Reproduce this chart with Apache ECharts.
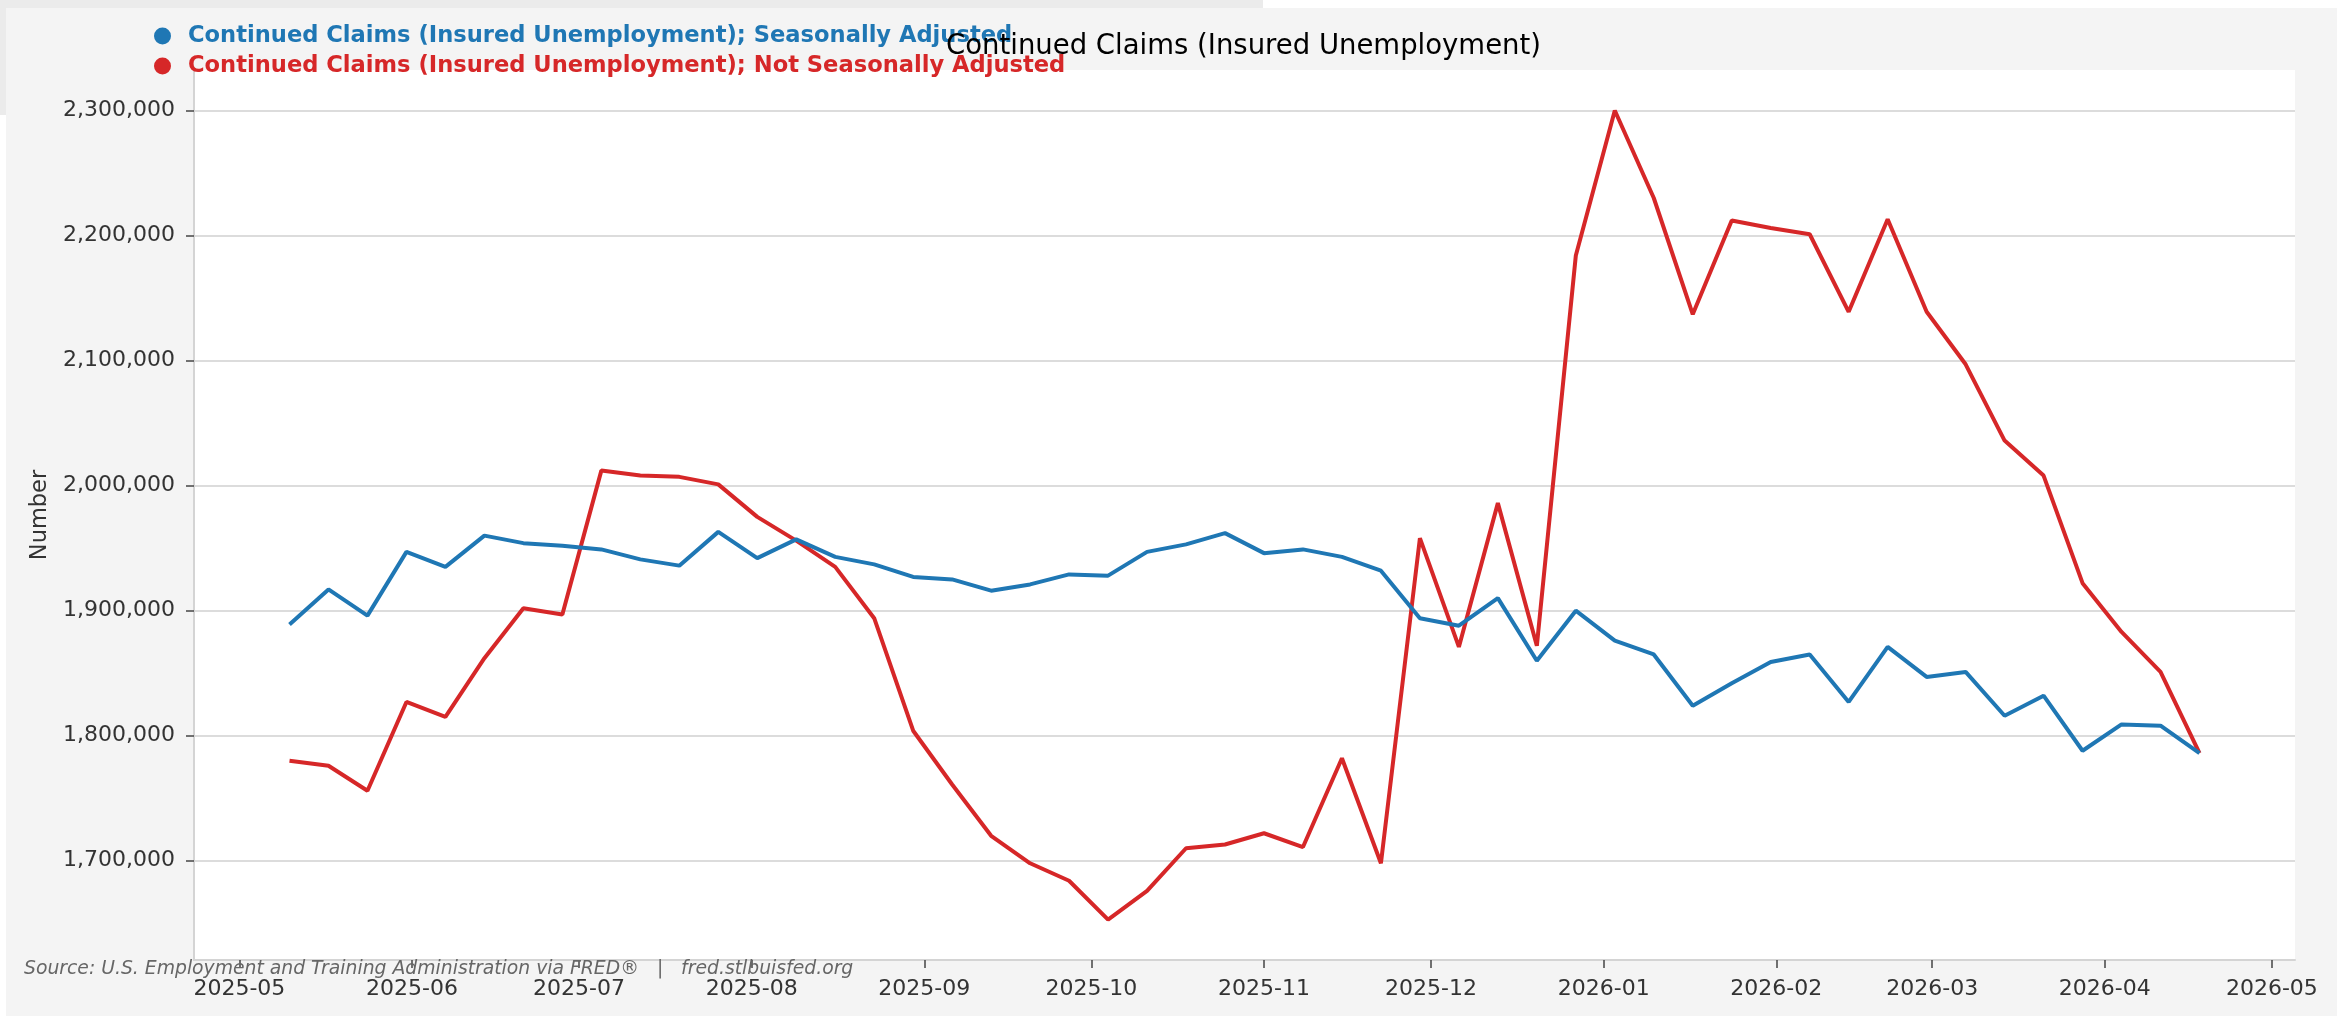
<!DOCTYPE html>
<html>
<head>
<meta charset="utf-8">
<script src="https://cdn.jsdelivr.net/npm/echarts@6/dist/echarts.min.js"></script>
<style>
html,body{margin:0;padding:0;background:#ffffff;}
#chart{width:2343px;height:1016px;}
</style>
</head>
<body>
<div id="chart"></div>
<script>
// Week-ending dates (Saturdays)
const weekDates = [
  '2025-05-10','2025-05-17','2025-05-24','2025-05-31','2025-06-07','2025-06-14','2025-06-21','2025-06-28',
  '2025-07-05','2025-07-12','2025-07-19','2025-07-26','2025-08-02','2025-08-09','2025-08-16','2025-08-23',
  '2025-08-30','2025-09-06','2025-09-13','2025-09-20','2025-09-27','2025-10-04','2025-10-11','2025-10-18',
  '2025-10-25','2025-11-01','2025-11-08','2025-11-15','2025-11-22','2025-11-29','2025-12-06','2025-12-13',
  '2025-12-20','2025-12-27','2026-01-03','2026-01-10','2026-01-17','2026-01-24','2026-01-31','2026-02-07',
  '2026-02-14','2026-02-21','2026-02-28','2026-03-07','2026-03-14','2026-03-21','2026-03-28','2026-04-04',
  '2026-04-11','2026-04-18'
];
// Continued Claims; Seasonally Adjusted
const seasonallyAdjusted = [
  1889000,1917000,1896000,1947000,1935000,1960000,1954000,1952000,
  1949000,1941000,1936000,1963000,1942000,1957000,1943000,1937000,
  1927000,1925000,1916000,1921000,1929000,1928000,1947000,1953000,
  1962000,1946000,1949000,1943000,1932000,1894000,1888000,1910000,
  1860000,1900000,1876000,1865000,1824000,1842000,1859000,1865000,
  1827000,1871000,1847000,1851000,1816000,1832000,1788000,1809000,
  1808000,1786000
];
// Continued Claims; Not Seasonally Adjusted
const notSeasonallyAdjusted = [
  1780000,1776000,1756000,1827000,1815000,1862000,1902000,1897000,
  2012000,2008000,2007000,2001000,1975000,1956000,1935000,1894000,
  1804000,1761000,1720000,1698000,1684000,1653000,1676000,1710000,
  1713000,1722000,1711000,1782000,1698000,1958000,1871000,1986000,
  1872000,2184000,2300000,2230000,2137000,2212000,2206000,2201000,
  2139000,2213000,2139000,2097000,2036000,2008000,1922000,1883000,
  1851000,1786000
];
const monthTicks = ['2025-05','2025-06','2025-07','2025-08','2025-09','2025-10','2025-11','2025-12',
  '2026-01','2026-02','2026-03','2026-04','2026-05'];
const yTicks = [1700000,1800000,1900000,2000000,2100000,2200000,2300000];

const seriesNames = [
  'Continued Claims (Insured Unemployment); Seasonally Adjusted',
  'Continued Claims (Insured Unemployment); Not Seasonally Adjusted'
];
const colors = ['#1f77b4','#d62728'];

function ts(s){ const p=s.split('-').map(Number); return Date.UTC(p[0],p[1]-1,p[2]||1); }
const xs = weekDates.map(ts);
const monthTs = monthTicks.map(ts);
const saData = xs.map((t,i)=>[t,seasonallyAdjusted[i]]);
const nsaData = xs.map((t,i)=>[t,notSeasonallyAdjusted[i]]);

const xSpan = xs[xs.length-1]-xs[0];
const xMin = xs[0]-0.05*xSpan, xMax = xs[xs.length-1]+0.05*xSpan;
const allY = seasonallyAdjusted.concat(notSeasonallyAdjusted);
const yLo = Math.min(...allY), yHi = Math.max(...allY), ySpan = yHi-yLo;
const yMin = yLo-0.05*ySpan, yMax = yHi+0.05*ySpan;

const FONT = 'DejaVu Sans';
const chart = echarts.init(document.getElementById('chart'), null, {renderer:'canvas'});
chart.setOption({
  animation:false,
  backgroundColor:'#ffffff',
  textStyle:{fontFamily:FONT},
  graphic:[
    {type:'rect', z:-20, silent:true, shape:{x:0,y:0,width:1263,height:115}, style:{fill:'#ebebeb'}},
    {type:'rect', z:-19, silent:true, shape:{x:6,y:8,width:2331,height:1008}, style:{fill:'#f4f4f4'}},
    {type:'text', left:24, top:960, z:10, silent:true,
      style:{text:'Source: U.S. Employment and Training Administration via FRED®   |   fred.stlbuisfed.org',
        font:'italic 18.8px "DejaVu Sans"', fill:'#666666'}}
  ],
  title:{
    text:'Continued Claims (Insured Unemployment)',
    left:946, top:33, padding:0,
    textStyle:{fontFamily:FONT, fontSize:27.5, fontWeight:'normal', color:'#000000'}
  },
  legend:{
    orient:'vertical', left:154, top:23, padding:0, itemGap:4,
    icon:'circle', itemWidth:17, itemHeight:17,
    selectedMode:false,
    textStyle:{fontFamily:FONT, fontSize:22.6, fontWeight:'bold', lineHeight:26, padding:[0,0,0,12]},
    data:[
      {name:seriesNames[0], textStyle:{color:colors[0]}},
      {name:seriesNames[1], textStyle:{color:colors[1]}}
    ]
  },
  grid:{left:194, top:70, width:2101, height:890, show:true, backgroundColor:'#ffffff', borderWidth:0, containLabel:false},
  xAxis:{
    type:'value', min:xMin, max:xMax, scale:true,
    axisLine:{show:true, lineStyle:{color:'#d4d4d4', width:2}},
    axisTick:{show:true, length:8, customValues:monthTs, lineStyle:{color:'#444444', width:1.5}},
    axisLabel:{show:true, customValues:monthTs, margin:18, fontFamily:FONT, fontSize:22, color:'#333333',
      hideOverlap:false, showMinLabel:true, showMaxLabel:true,
      formatter:function(v){ let best=0; for(let i=1;i<monthTs.length;i++){ if(Math.abs(monthTs[i]-v)<Math.abs(monthTs[best]-v)) best=i; } return monthTicks[best]; }},
    splitLine:{show:false}
  },
  yAxis:{
    type:'value', min:yMin, max:yMax, scale:true,
    name:'Number', nameLocation:'middle', nameGap:140, nameRotate:90,
    nameTextStyle:{fontFamily:FONT, fontSize:22.5, color:'#333333'},
    axisLine:{show:true, lineStyle:{color:'#d4d4d4', width:2}},
    axisTick:{show:true, length:8, customValues:yTicks, lineStyle:{color:'#444444', width:1.5}},
    axisLabel:{show:true, customValues:yTicks, margin:19, fontFamily:FONT, fontSize:22, color:'#333333',
      formatter:function(v){ return Math.round(v).toLocaleString('en-US'); }},
    splitLine:{show:true, lineStyle:{color:'#dcdcdc', width:2}}
  },
  series:[
    {name:seriesNames[0], type:'line', data:saData, showSymbol:false, symbol:'none',
      lineStyle:{color:colors[0], width:4}, itemStyle:{color:colors[0]}, z:3},
    {name:seriesNames[1], type:'line', data:nsaData, showSymbol:false, symbol:'none',
      lineStyle:{color:colors[1], width:4}, itemStyle:{color:colors[1]}, z:2}
  ]
});
</script>
</body>
</html>
